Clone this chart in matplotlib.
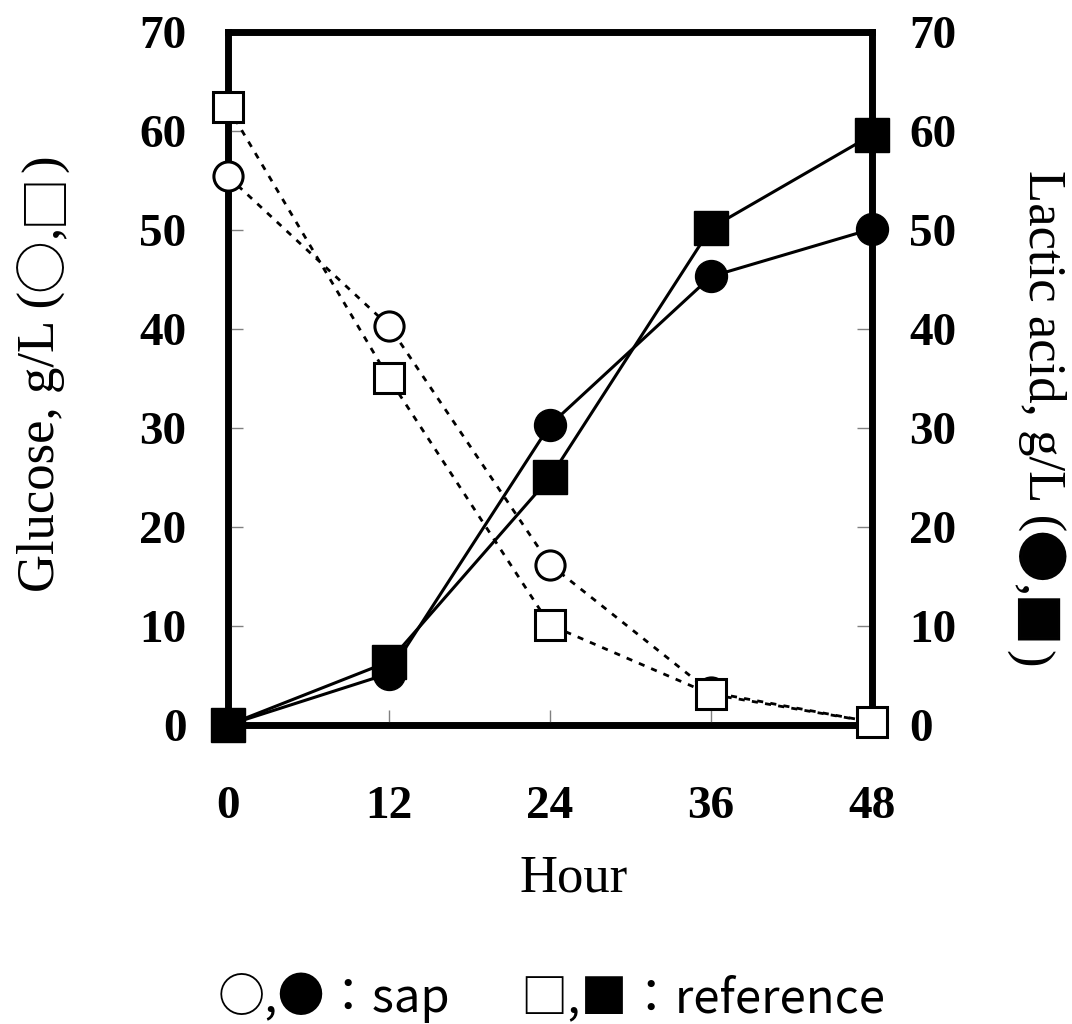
import matplotlib
matplotlib.use('Agg')
import matplotlib.pyplot as plt

# hours sampled
hours = [0, 12, 24, 36, 48]

# glucose, g/L (open markers)
glucose_sap = [55.4, 40.3, 16.2, 3.3, 0.3]
glucose_ref = [62.4, 35.0, 10.1, 3.1, 0.3]

# lactic acid, g/L (filled markers)
lactic_sap = [0.0, 5.2, 30.3, 45.3, 50.1]
lactic_ref = [0.0, 6.4, 25.0, 50.2, 59.6]

y_ticks = [0, 10, 20, 30, 40, 50, 60, 70]

serif = ['Liberation Serif', 'DejaVu Serif']
cjk = ['Noto Sans CJK JP', 'DejaVu Sans']

fig = plt.figure(figsize=(10.72, 10.24), dpi=100)
ax = fig.add_axes([0.2127, 0.292, 0.6007, 0.6768])
ax2 = ax.twinx()

dots = (0, (2.2, 2.6))

# glucose, dotted lines with open markers
ax.plot(hours, glucose_sap, color='black', lw=2.0, ls=dots, marker='o', ms=21,
        mfc='white', mec='black', mew=2.2, clip_on=False, zorder=3)
ax.plot(hours, glucose_ref, color='black', lw=2.0, ls=dots, marker='s', ms=22,
        mfc='white', mec='black', mew=2.2, clip_on=False, zorder=4)

# lactic acid, solid lines with filled markers
ax.plot(hours, lactic_sap, color='black', lw=2.2, marker='o', ms=23,
        mfc='black', mec='black', clip_on=False, zorder=5)
ax.plot(hours, lactic_ref, color='black', lw=2.2, marker='s', ms=24,
        mfc='black', mec='black', clip_on=False, zorder=6)

for a in (ax, ax2):
    a.set_ylim(0, 70)
    a.set_yticks(y_ticks)
    for s in a.spines.values():
        s.set_linewidth(4.8)
    a.tick_params(direction='in', length=11, width=1, color='grey')
    for lab in a.get_yticklabels():
        lab.set_fontfamily(serif)
        lab.set_fontweight('bold')
        lab.set_fontsize(34)
ax.tick_params(axis='y', pad=30)
ax2.tick_params(axis='y', pad=27)

ax.set_xlim(0, 48)
ax.set_xticks(hours)
ax.tick_params(axis='x', pad=44)
for lab in ax.get_xticklabels():
    lab.set_fontfamily(serif)
    lab.set_fontweight('bold')
    lab.set_fontsize(34)
ax.set_zorder(ax2.get_zorder() + 1)
ax.patch.set_visible(False)

ax.set_xlabel('Hour', family=serif, fontsize=38)
ax.xaxis.set_label_coords(0.537, -0.187)


def chain(pieces, x, y, rotation, cjk_shift):
    # serif words and full-width CJK symbols joined end to end in one rotated title
    va = 'bottom' if rotation == 90 else 'top'
    xy = (0.5, 1) if rotation == 90 else (0.5, 0)
    last = fig.text(x, y, pieces[0], family=serif, fontsize=38,
                    rotation=rotation, ha='center', va=va)
    for i, txt in enumerate(pieces[1:]):
        is_sym = i % 2 == 0
        last = ax.annotate(txt, xy=xy, xycoords=last,
                           xytext=(cjk_shift if is_sym else 0, 0),
                           textcoords='offset points', ha='center', va=va,
                           rotation=rotation, family=cjk if is_sym else serif,
                           fontsize=38, annotation_clip=False)


chain(['Glucose, g/L (', '\u25cb', ',', '\u25a1', ')'], 0.038, 0.422, 90, 1.5)
chain(['Lactic acid, g/L (', '\u25cf', ',', '\u25a0', ')'], 0.972, 0.834, -90, -5)

fig.text(0.203, 0.0117, '\u25cb,\u25cf\uff1asap', family=cjk, fontsize=34,
         ha='left', va='baseline')
fig.text(0.485, 0.0117, '\u25a1,\u25a0\uff1areference', family=cjk, fontsize=34,
         ha='left', va='baseline')

fig.savefig('out.png', dpi=100)
